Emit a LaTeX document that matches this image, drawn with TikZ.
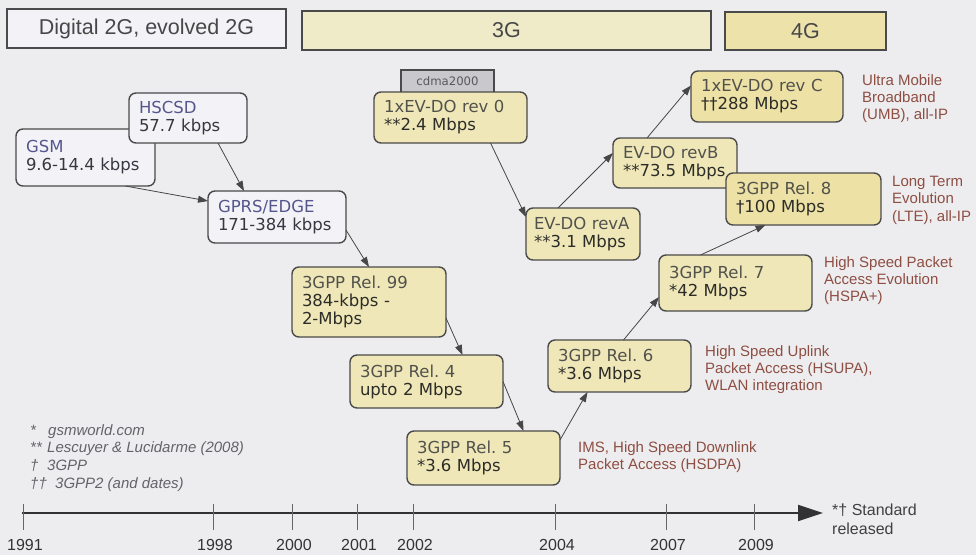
\documentclass[tikz,border=0pt]{standalone}
\usepackage{fontspec}
\setmainfont{Liberation Sans}
\newfontfamily\boxfont{DejaVu Sans}
\usetikzlibrary{arrows.meta}
\frenchspacing

\definecolor{bgc}{RGB}{237,237,240}
\definecolor{frame}{RGB}{74,74,74}
\definecolor{fillII}{RGB}{243,243,247}
\definecolor{fillIII}{RGB}{239,231,184}
\definecolor{fillIV}{RGB}{237,225,166}
\definecolor{hdrIII}{RGB}{239,235,201}
\definecolor{hdrIV}{RGB}{236,226,170}
\definecolor{tabgray}{RGB}{201,201,205}
\definecolor{nameII}{RGB}{84,86,140}
\definecolor{rateII}{RGB}{55,55,65}
\definecolor{nameIII}{RGB}{82,82,76}
\definecolor{rateIII}{RGB}{44,44,40}
\definecolor{notec}{RGB}{142,78,66}
\definecolor{footc}{RGB}{100,100,104}
\definecolor{axisc}{RGB}{50,50,52}

% two-line box content: name, then rate
\newcommand{\genII}[2]{\mbox{\color{nameII}#1}\\\mbox{\color{rateII}#2}}
\newcommand{\genIII}[2]{\mbox{\color{nameIII}#1}\\\mbox{\color{rateIII}#2}}

\tikzset{
  hdr/.style={draw=frame, line width=1.4pt, inner sep=0pt, outer sep=0pt,
    text=black!72, font=\fontsize{21.5}{24}\selectfont},
  techbox/.style={draw=frame, line width=1.4pt, rounded corners=7pt,
    inner xsep=10pt, inner ysep=0pt, outer sep=0pt, align=left,
    font=\boxfont\fontsize{16.5}{18}\selectfont},
  boxII/.style={techbox, fill=fillII},
  boxIII/.style={techbox, fill=fillIII},
  boxIV/.style={techbox, fill=fillIV},
  tabbox/.style={draw=frame, line width=1.2pt, fill=tabgray, inner sep=0pt,
    outer sep=0pt, text=black!65, font=\boxfont\fontsize{11.7}{13}\selectfont},
  edge/.style={draw=black!72, line width=0.8pt,
    -{Triangle[length=10pt,width=7pt]}},
  note/.style={anchor=north west, inner sep=0pt, align=left, text=notec,
    font=\fontsize{15}{17.3}\selectfont},
  foot/.style={anchor=base west, inner sep=0pt, text=footc,
    font=\itshape\fontsize{15}{17}\selectfont},
  yearlbl/.style={anchor=base, inner sep=0pt, text=black!80,
    font=\fontsize{16}{18}\selectfont},
  tickmark/.style={draw=black!60, line width=0.9pt},
  axis/.style={draw=axisc, line width=2pt,
    -{Triangle[length=25pt,width=16pt]}}
}

\begin{document}
\begin{tikzpicture}[x=1pt,y=-1pt]
\fill[bgc] (0,0) rectangle (976,555);
\useasboundingbox (0,0) rectangle (976,555);

% generation headers
\node[hdr, fill=fillII, minimum width=279pt, minimum height=39pt] (hII) at (146.5,28.5) {Digital 2G, evolved 2G};
\node[hdr, fill=hdrIII, minimum width=409pt, minimum height=39pt] (hIII) at (506.5,30.5) {3G};
\node[hdr, fill=hdrIV, minimum width=161pt, minimum height=38pt] (hIV) at (805.5,31) {4G};

% 2G branch
\node[boxII, text width=119pt, minimum height=57pt] (gsm) at (85.5,157.5) {\genII{GSM}{9.6-14.4 kbps}};
\node[boxII, text width=98pt, minimum height=50pt] (hscsd) at (188,118) {\genII{HSCSD}{57.7 kbps}};
\node[boxII, text width=118pt, minimum height=52pt] (gprs) at (277,217) {\genII{GPRS/EDGE}{171-384 kbps}};

% 3GPP branch
\node[boxIII, text width=134pt, minimum height=70pt] (rel99) at (369,302)
  {\mbox{\color{nameIII}3GPP Rel. 99}\\\mbox{\color{rateIII}384-kbps -}\\\mbox{\color{rateIII}2-Mbps}};
\node[boxIII, text width=133pt, minimum height=53pt] (rel4) at (426.5,381.5) {\genIII{3GPP Rel. 4}{upto 2 Mbps}};
\node[boxIII, text width=133pt, minimum height=54pt] (rel5) at (483.5,458) {\genIII{3GPP Rel. 5}{*3.6 Mbps}};
\node[boxIII, text width=123pt, minimum height=52pt] (rel6) at (619.5,366) {\genIII{3GPP Rel. 6}{*3.6 Mbps}};
\node[boxIII, text width=133pt, minimum height=56pt] (rel7) at (735.5,283) {\genIII{3GPP Rel. 7}{*42 Mbps}};

% cdma2000 branch
\node[tabbox, minimum width=93pt, minimum height=23pt] (cdma) at (447.5,81.5) {cdma2000};
\node[boxIII, text width=133pt, minimum height=51pt] (rev0) at (450.5,117.5) {\genIII{1xEV-DO rev 0}{**2.4 Mbps}};
\node[boxIII, text width=98pt, inner xsep=8pt, minimum height=52pt] (revA) at (583,234) {\genIII{EV-DO revA}{**3.1 Mbps}};
\node[boxIII, text width=104pt, minimum height=50pt] (revB) at (675,163) {\genIII{EV-DO revB}{**73.5 Mbps}};

% 4G boxes
\node[boxIV, text width=132pt, minimum height=51pt] (revC) at (767,96.5) {\genIII{1xEV-DO rev C}{††288 Mbps}};
\node[boxIV, text width=135pt, minimum height=52pt] (rel8) at (803.5,199) {\genIII{3GPP Rel. 8}{†100 Mbps}};

% evolution arrows
\draw[edge] ([xshift=30pt]hscsd.south) -- ([xshift=-33pt]gprs.north);
\draw[edge] ([xshift=40pt]gsm.south) -- ([yshift=16pt]gprs.west);
\draw[edge] ([yshift=-13pt]gprs.east) -- (rel99.north);
\draw[edge] ([yshift=-16pt]rel99.east) -- ([xshift=36pt]rel4.north);
\draw[edge] (rel4.east) -- ([xshift=40pt]rel5.north);
\draw[edge] ([yshift=18pt]rel5.east) -- ([xshift=-32pt]rel6.south);
\draw[edge] ([xshift=4pt]rel6.north) -- ([yshift=-14pt]rel7.west);
\draw[edge] ([xshift=-35pt]rel7.north) -- ([xshift=-38pt]rel8.south);
\draw[edge] ([xshift=40pt]rev0.south) -- ([yshift=17pt]revA.west);
\draw[edge] ([xshift=-25pt]revA.north) -- ([yshift=10pt]revB.west);
\draw[edge] ([xshift=-28pt]revB.north) -- ([yshift=11pt]revC.west);

% technology notes
\node[note] (nUMB) at (862,74) {Ultra Mobile\\Broadband\\(UMB), all-IP};
\node[note] (nLTE) at (892,176) {Long Term\\Evolution\\(LTE), all-IP};
\node[note] (nHSPA) at (824,256) {High Speed Packet\\Access Evolution\\(HSPA+)};
\node[note] (nHSUPA) at (705,345) {High Speed Uplink\\Packet Access (HSUPA),\\WLAN integration};
\node[note] (nHSDPA) at (578,441) {IMS, High Speed Downlink\\Packet Access (HSDPA)};

% sources
\node[foot] (f1) at (30,435) {\makebox[18pt][l]{*}gsmworld.com};
\node[foot] (f2) at (30,452) {\makebox[17pt][l]{**}Lescuyer \& Lucidarme (2008)};
\node[foot] (f3) at (30,470) {\makebox[17pt][l]{†}3GPP};
\node[foot] (f4) at (30,488) {\makebox[25pt][l]{††}3GPP2 (and dates)};

% time axis
\coordinate (t0) at (22,513);
\coordinate (tend) at (823,513);
\draw[axis] (t0) -- (tend);
\foreach \xx/\yr in {23/1991, 213/1998, 292/2000, 357/2001, 413/2002, 555/2004, 666/2007, 754/2009} {
  \draw[tickmark] (\xx,504) -- (\xx,530);
  \node[yearlbl] at (\xx+2,550) {\yr};
}
\node[anchor=north west, inner sep=0pt, align=left, text=black!75,
  font=\fontsize{16}{19}\selectfont] (rel) at (832,503.5) {*† Standard\\released};
\end{tikzpicture}
\end{document}
